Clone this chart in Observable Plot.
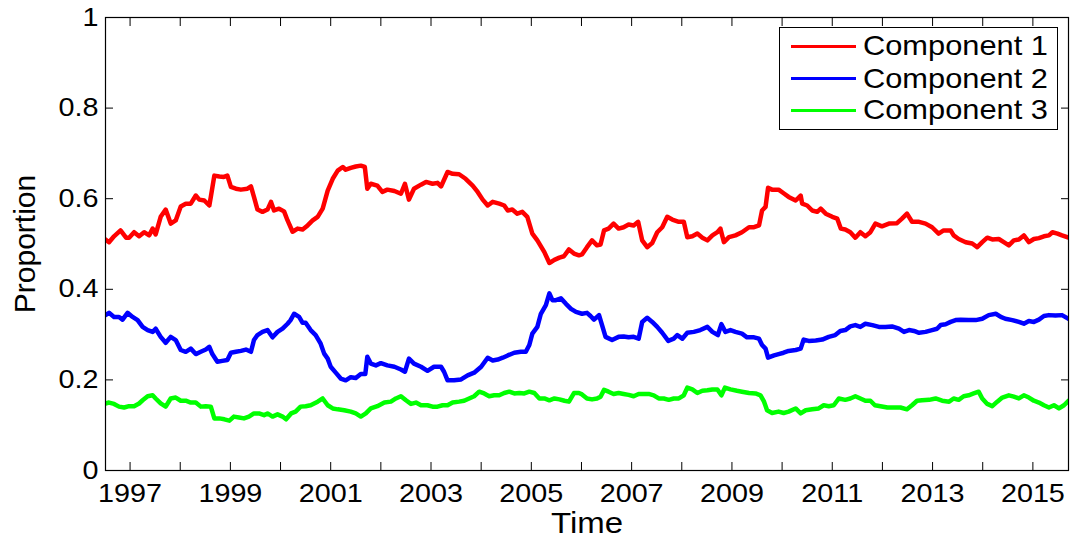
<!DOCTYPE html>
<html><head><meta charset="utf-8">
<script src="https://cdn.jsdelivr.net/npm/d3@7"></script>
<script src="https://cdn.jsdelivr.net/npm/@observablehq/plot@0.6"></script>
<style>
html,body{margin:0;padding:0;background:#fff;}
#wrap{position:relative;width:1072px;height:541px;font-family:"Liberation Sans",Arial,sans-serif;}
#legend{position:absolute;left:779px;top:27px;width:279px;height:103px;box-sizing:border-box;border:1.3px solid #000;background:#fff;}
.sw{position:absolute;left:11.4px;width:65px;height:3px;}
.lt{position:absolute;left:82.5px;font-size:28px;line-height:28px;white-space:nowrap;transform:scaleX(1.1);transform-origin:0 50%;color:#000;}
</style></head>
<body>
<div id="wrap"><div id="legend"></div></div>
<script>
const names = ["Component 1", "Component 2", "Component 3"];
const colors = ["#ff0000", "#0000ff", "#00ff00"];
const yTicks = [0, 0.2, 0.4, 0.6, 0.8, 1];
const yearTicks = [1997,1998,1999,2000,2001,2002,2003,2004,2005,2006,2007,2008,2009,2010,2011,2012,2013,2014,2015];
const yearLabels = [1997,1999,2001,2003,2005,2007,2009,2011,2013,2015];

// Component 1 (red)
const t1 = [1996.51,1996.58,1996.68,1996.81,1996.92,1996.98,1997.08,1997.18,1997.28,1997.38,1997.45,1997.51,1997.61,1997.71,1997.81,1997.91,1998.01,1998.11,1998.21,1998.31,1998.38,1998.48,1998.58,1998.61,1998.68,1998.78,1998.87,1998.94,1999.01,1999.11,1999.21,1999.34,1999.41,1999.47,1999.54,1999.64,1999.74,1999.81,1999.87,1999.97,2000.07,2000.14,2000.24,2000.34,2000.44,2000.54,2000.64,2000.74,2000.84,2000.94,2001.04,2001.14,2001.24,2001.30,2001.40,2001.50,2001.60,2001.68,2001.73,2001.80,2001.93,2002.03,2002.13,2002.27,2002.40,2002.48,2002.56,2002.66,2002.80,2002.90,2003.03,2003.13,2003.20,2003.33,2003.43,2003.56,2003.69,2003.83,2003.93,2004.03,2004.13,2004.23,2004.36,2004.46,2004.53,2004.62,2004.72,2004.82,2004.92,2005.02,2005.12,2005.26,2005.36,2005.46,2005.56,2005.65,2005.75,2005.85,2005.95,2006.01,2006.11,2006.21,2006.31,2006.38,2006.45,2006.54,2006.64,2006.74,2006.84,2006.94,2007.04,2007.13,2007.21,2007.31,2007.41,2007.51,2007.61,2007.71,2007.81,2007.94,2008.04,2008.11,2008.21,2008.31,2008.41,2008.51,2008.61,2008.71,2008.77,2008.84,2008.94,2009.07,2009.20,2009.34,2009.44,2009.54,2009.60,2009.67,2009.72,2009.80,2009.93,2010.03,2010.13,2010.27,2010.37,2010.40,2010.50,2010.60,2010.70,2010.77,2010.87,2011.00,2011.10,2011.17,2011.26,2011.36,2011.46,2011.56,2011.66,2011.76,2011.86,2011.99,2012.13,2012.29,2012.39,2012.49,2012.59,2012.73,2012.86,2012.99,2013.12,2013.22,2013.36,2013.42,2013.52,2013.66,2013.79,2013.89,2013.99,2014.09,2014.19,2014.32,2014.42,2014.52,2014.62,2014.72,2014.82,2014.92,2015.02,2015.12,2015.22,2015.32,2015.39,2015.49,2015.58,2015.71];
const c1 = [0.510,0.504,0.517,0.530,0.514,0.514,0.526,0.517,0.526,0.519,0.534,0.521,0.560,0.576,0.545,0.552,0.583,0.589,0.589,0.607,0.598,0.596,0.585,0.604,0.651,0.649,0.648,0.651,0.626,0.622,0.620,0.622,0.627,0.604,0.576,0.571,0.576,0.593,0.574,0.578,0.572,0.552,0.527,0.534,0.532,0.541,0.552,0.560,0.578,0.618,0.644,0.662,0.670,0.664,0.668,0.671,0.673,0.670,0.622,0.633,0.629,0.615,0.620,0.617,0.611,0.633,0.598,0.622,0.631,0.637,0.633,0.635,0.627,0.659,0.655,0.654,0.644,0.629,0.615,0.598,0.585,0.593,0.589,0.585,0.574,0.576,0.567,0.571,0.560,0.523,0.508,0.482,0.458,0.465,0.470,0.473,0.488,0.479,0.475,0.477,0.493,0.508,0.497,0.499,0.530,0.534,0.545,0.534,0.537,0.543,0.541,0.549,0.508,0.493,0.502,0.526,0.537,0.560,0.554,0.549,0.549,0.515,0.517,0.523,0.514,0.508,0.519,0.526,0.534,0.504,0.515,0.519,0.526,0.537,0.537,0.541,0.574,0.582,0.624,0.620,0.620,0.612,0.604,0.596,0.607,0.589,0.585,0.574,0.571,0.578,0.567,0.560,0.556,0.534,0.532,0.526,0.514,0.526,0.517,0.526,0.545,0.539,0.545,0.546,0.556,0.567,0.549,0.549,0.545,0.537,0.523,0.530,0.530,0.519,0.511,0.504,0.501,0.493,0.504,0.514,0.510,0.511,0.504,0.497,0.508,0.510,0.519,0.504,0.511,0.513,0.517,0.519,0.526,0.523,0.519,0.514];

// Component 2 (blue)
const t2 = [1996.51,1996.58,1996.68,1996.78,1996.85,1996.95,1997.05,1997.15,1997.25,1997.35,1997.45,1997.51,1997.61,1997.71,1997.81,1997.91,1998.01,1998.11,1998.21,1998.31,1998.41,1998.51,1998.58,1998.64,1998.74,1998.84,1998.94,1999.01,1999.11,1999.21,1999.31,1999.41,1999.47,1999.54,1999.64,1999.74,1999.84,1999.94,2000.04,2000.14,2000.20,2000.27,2000.37,2000.44,2000.50,2000.60,2000.70,2000.80,2000.87,2000.94,2001.00,2001.10,2001.20,2001.30,2001.40,2001.50,2001.60,2001.69,2001.73,2001.80,2001.90,2002.00,2002.13,2002.27,2002.40,2002.48,2002.56,2002.66,2002.80,2002.93,2003.06,2003.20,2003.26,2003.33,2003.46,2003.60,2003.73,2003.86,2004.00,2004.13,2004.23,2004.33,2004.43,2004.53,2004.66,2004.79,2004.89,2004.96,2005.02,2005.12,2005.19,2005.29,2005.36,2005.42,2005.49,2005.59,2005.69,2005.79,2005.89,2006.01,2006.11,2006.18,2006.25,2006.35,2006.41,2006.48,2006.61,2006.74,2006.84,2006.94,2007.04,2007.14,2007.21,2007.31,2007.41,2007.51,2007.61,2007.73,2007.84,2007.91,2008.01,2008.11,2008.24,2008.37,2008.51,2008.61,2008.72,2008.79,2008.87,2008.97,2009.07,2009.20,2009.30,2009.44,2009.54,2009.60,2009.67,2009.72,2009.84,2009.93,2010.03,2010.13,2010.27,2010.37,2010.43,2010.53,2010.67,2010.80,2010.93,2011.06,2011.16,2011.26,2011.36,2011.46,2011.56,2011.66,2011.80,2011.93,2012.06,2012.19,2012.33,2012.43,2012.53,2012.63,2012.73,2012.86,2012.99,2013.09,2013.16,2013.26,2013.36,2013.46,2013.56,2013.72,2013.86,2013.99,2014.12,2014.26,2014.36,2014.45,2014.59,2014.72,2014.82,2014.92,2015.02,2015.12,2015.22,2015.32,2015.45,2015.58,2015.71];
const c2 = [0.343,0.348,0.339,0.339,0.333,0.348,0.339,0.332,0.317,0.310,0.306,0.313,0.295,0.282,0.295,0.288,0.266,0.262,0.269,0.257,0.262,0.267,0.273,0.257,0.240,0.242,0.244,0.260,0.262,0.264,0.267,0.262,0.288,0.299,0.306,0.310,0.294,0.306,0.313,0.324,0.332,0.346,0.339,0.326,0.326,0.310,0.299,0.280,0.258,0.247,0.229,0.216,0.203,0.199,0.206,0.204,0.213,0.213,0.251,0.236,0.232,0.237,0.232,0.229,0.223,0.218,0.247,0.236,0.229,0.220,0.229,0.229,0.218,0.199,0.199,0.201,0.210,0.216,0.229,0.249,0.243,0.245,0.249,0.254,0.260,0.262,0.262,0.277,0.302,0.317,0.346,0.365,0.391,0.376,0.376,0.380,0.368,0.357,0.350,0.346,0.348,0.341,0.333,0.343,0.321,0.295,0.288,0.295,0.296,0.294,0.295,0.291,0.328,0.337,0.328,0.317,0.304,0.286,0.291,0.299,0.291,0.304,0.306,0.310,0.317,0.306,0.299,0.323,0.306,0.310,0.306,0.302,0.294,0.294,0.291,0.277,0.269,0.249,0.254,0.257,0.260,0.264,0.266,0.269,0.289,0.286,0.287,0.289,0.295,0.299,0.308,0.310,0.318,0.321,0.317,0.324,0.321,0.317,0.317,0.318,0.313,0.306,0.310,0.308,0.304,0.306,0.310,0.313,0.321,0.323,0.328,0.332,0.333,0.332,0.332,0.335,0.343,0.346,0.339,0.335,0.332,0.328,0.324,0.330,0.328,0.333,0.341,0.343,0.342,0.343,0.335];

// Component 3 (green)
const t3 = [1996.51,1996.58,1996.68,1996.78,1996.88,1996.98,1997.08,1997.18,1997.25,1997.35,1997.45,1997.51,1997.61,1997.71,1997.81,1997.91,1998.01,1998.11,1998.21,1998.31,1998.41,1998.51,1998.61,1998.68,1998.78,1998.88,1998.98,1999.07,1999.17,1999.27,1999.37,1999.47,1999.57,1999.67,1999.74,1999.84,1999.94,2000.04,2000.11,2000.21,2000.30,2000.40,2000.50,2000.60,2000.74,2000.84,2000.94,2001.04,2001.14,2001.27,2001.40,2001.50,2001.60,2001.70,2001.80,2001.93,2002.07,2002.20,2002.30,2002.40,2002.50,2002.60,2002.70,2002.80,2002.93,2003.03,2003.13,2003.23,2003.33,2003.43,2003.56,2003.66,2003.76,2003.86,2003.96,2004.06,2004.16,2004.26,2004.36,2004.46,2004.56,2004.66,2004.76,2004.86,2004.96,2005.06,2005.16,2005.26,2005.36,2005.46,2005.56,2005.66,2005.75,2005.85,2005.95,2006.01,2006.11,2006.21,2006.31,2006.38,2006.45,2006.54,2006.64,2006.74,2006.84,2006.94,2007.04,2007.14,2007.24,2007.34,2007.44,2007.54,2007.64,2007.74,2007.84,2007.94,2008.04,2008.11,2008.21,2008.31,2008.41,2008.51,2008.61,2008.71,2008.79,2008.86,2008.97,2009.10,2009.20,2009.34,2009.47,2009.57,2009.64,2009.70,2009.80,2009.93,2010.03,2010.13,2010.27,2010.37,2010.47,2010.60,2010.73,2010.83,2010.93,2011.03,2011.13,2011.26,2011.36,2011.46,2011.56,2011.66,2011.76,2011.85,2011.96,2012.10,2012.23,2012.36,2012.49,2012.59,2012.69,2012.79,2012.93,2013.06,2013.19,2013.33,2013.42,2013.52,2013.62,2013.72,2013.82,2013.92,2013.99,2014.09,2014.19,2014.29,2014.39,2014.52,2014.62,2014.72,2014.82,2014.92,2015.02,2015.12,2015.22,2015.32,2015.42,2015.52,2015.62,2015.71];
const c3 = [0.148,0.150,0.147,0.141,0.139,0.142,0.142,0.148,0.155,0.164,0.166,0.159,0.148,0.141,0.159,0.161,0.154,0.154,0.150,0.150,0.141,0.142,0.141,0.115,0.115,0.113,0.110,0.119,0.117,0.115,0.119,0.126,0.126,0.122,0.126,0.119,0.124,0.119,0.113,0.126,0.130,0.141,0.142,0.144,0.152,0.159,0.144,0.137,0.135,0.133,0.130,0.126,0.119,0.126,0.137,0.142,0.150,0.152,0.159,0.164,0.155,0.147,0.150,0.144,0.144,0.141,0.141,0.144,0.144,0.150,0.152,0.154,0.159,0.164,0.174,0.170,0.164,0.166,0.166,0.171,0.174,0.170,0.171,0.170,0.174,0.171,0.159,0.159,0.155,0.159,0.157,0.154,0.152,0.171,0.171,0.168,0.159,0.157,0.159,0.163,0.178,0.174,0.169,0.171,0.169,0.167,0.164,0.169,0.169,0.169,0.166,0.159,0.159,0.156,0.159,0.159,0.166,0.183,0.179,0.171,0.176,0.177,0.179,0.179,0.166,0.183,0.179,0.176,0.174,0.171,0.170,0.166,0.152,0.133,0.127,0.130,0.127,0.130,0.137,0.126,0.133,0.135,0.137,0.144,0.142,0.144,0.159,0.156,0.159,0.164,0.159,0.154,0.154,0.144,0.142,0.139,0.139,0.139,0.135,0.144,0.154,0.155,0.156,0.159,0.154,0.152,0.159,0.156,0.164,0.166,0.170,0.174,0.159,0.147,0.142,0.152,0.161,0.166,0.163,0.159,0.166,0.161,0.154,0.150,0.144,0.139,0.144,0.137,0.144,0.154];

const seriesT = [t1, t2, t3];
const seriesV = [c1, c2, c3];
const rows = [];
seriesT.forEach((t, k) => t.forEach((x, i) => rows.push({series: names[k], time: x, value: seriesV[k][i]})));

const fmt = d => String(d);
const chart = Plot.plot({
  width: 1072, height: 541,
  marginLeft: 105, marginRight: 4, marginTop: 17, marginBottom: 71,
  style: {fontFamily: '"Liberation Sans", Arial, sans-serif', fontSize: "25px", color: "#000", background: "#fff", overflow: "visible"},
  x: {domain: [1996.51, 2015.71]},
  y: {domain: [0, 1]},
  color: {domain: names, range: colors},
  marks: [
    Plot.line(rows, {x: "time", y: "value", z: "series", stroke: "series", strokeWidth: 4.5, clip: true}),
    Plot.frame({stroke: "#000", strokeWidth: 1.2}),
    Plot.axisX(yearTicks, {anchor: "bottom", tickSize: -8, fill: "none", label: null}),
    Plot.axisX(yearTicks, {anchor: "top", tickSize: -8, fill: "none", label: null}),
    Plot.axisX(yearLabels, {anchor: "bottom", tickSize: 0, tickPadding: 13.5, tickFormat: fmt, label: null}),
    Plot.axisY(yTicks, {anchor: "left", tickSize: -8, fill: "none", label: null}),
    Plot.axisY(yTicks, {anchor: "right", tickSize: -8, fill: "none", label: null}),
    Plot.axisY(yTicks, {anchor: "left", tickSize: 0, tickPadding: 7, tickFormat: fmt, label: null}),
    Plot.text(["Time"], {text: d => d, frameAnchor: "bottom", textAnchor: "middle", lineAnchor: "bottom", dy: 62, fontSize: 30}),
    Plot.text(["Proportion"], {text: d => d, frameAnchor: "left", textAnchor: "middle", lineAnchor: "bottom", rotate: -90, dx: -71, fontSize: 30})
  ]
});
const wrap = document.getElementById("wrap");
wrap.insertBefore(chart, wrap.firstChild);

// horizontally widen horizontal texts to match the reference's font proportions
chart.querySelectorAll("text").forEach(t => {
  const tr = t.getAttribute("transform") || "";
  if (tr.includes("rotate")) return;
  const len = t.getComputedTextLength();
  if (!len) return;
  const k = t.textContent === "Time" ? 1.1 : 1.15;
  t.setAttribute("textLength", (len * k).toFixed(2));
  t.setAttribute("lengthAdjust", "spacingAndGlyphs");
});

// legend
const legend = document.getElementById("legend");
const rowCenters = [18, 50.3, 82];
names.forEach((n, i) => {
  const sw = document.createElement("div");
  sw.className = "sw";
  sw.style.top = (rowCenters[i] - 1.5) + "px";
  sw.style.background = colors[i];
  legend.appendChild(sw);
  const lt = document.createElement("div");
  lt.className = "lt";
  lt.style.top = (rowCenters[i] - 13.7) + "px";
  lt.textContent = n;
  legend.appendChild(lt);
});
</script>
</body></html>
